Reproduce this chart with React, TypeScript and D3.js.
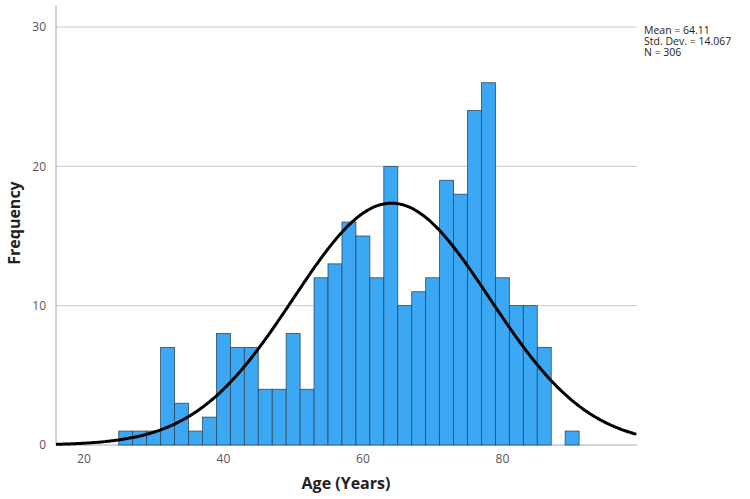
import { useEffect } from 'react';
import * as d3 from 'd3';

const width = 750;
const height = 499;
const marginLeft = 56;
const marginRight = 113;
const marginTop = 27;
const y0 = 445;

// histogram bins (2 years wide), starting at 25
const binStarts = [25, 27, 29, 31, 33, 35, 37, 39, 41, 43, 45, 47, 49, 51, 53, 55, 57, 59, 61, 63, 65, 67, 69, 71, 73, 75, 77, 79, 81, 83, 85, 87, 89];
const counts = [1, 1, 1, 7, 3, 1, 2, 8, 7, 7, 4, 4, 8, 4, 12, 13, 16, 15, 12, 20, 10, 11, 12, 19, 18, 24, 26, 12, 10, 10, 7, 0, 1];
const binWidth = 2;
const xTicks = [20, 40, 60, 80];
const yTicks = [0, 10, 20, 30];
const stats = ['Mean = 64.11', 'Std. Dev. = 14.067', 'N = 306'];
const mean = 64.11;
const sd = 14.067;
const n = 306;

const font = '"Open Sans", "Liberation Sans", Arial, sans-serif';

const App = () => {
  useEffect(() => {
    document.body.style.margin = '0';
  }, []);

  const x = d3.scaleLinear().domain([16, 99.3]).range([marginLeft, width - marginRight]);
  const y = d3.scaleLinear().domain([0, 30]).range([y0, marginTop]);

  // normal curve scaled to counts
  const curvePts = d3.range(16, 99.31, 0.2).map((v) => {
    const z = (v - mean) / sd;
    const f = (n * binWidth) / (sd * Math.sqrt(2 * Math.PI)) * Math.exp(-0.5 * z * z);
    return [v, f] as [number, number];
  });
  const line = d3
    .line<[number, number]>()
    .x((d) => x(d[0]))
    .y((d) => y(d[1]))
    .curve(d3.curveBasis);

  const [xMin, xMax] = x.range();

  return (
    <svg width={width} height={height} style={{ display: 'block', background: '#fff' }}>
      {/* gridlines */}
      {yTicks.slice(1).map((t) => (
        <line key={t} x1={xMin} x2={xMax} y1={y(t)} y2={y(t)} stroke="#c8c8c8" strokeWidth={1} />
      ))}
      {/* axes */}
      <line x1={xMin} x2={xMin} y1={5} y2={y0} stroke="#aaa" strokeWidth={1} />
      <line x1={xMin} x2={xMax} y1={y0} y2={y0} stroke="#aaa" strokeWidth={1} />

      {/* bars */}
      {binStarts.map((b, i) =>
        counts[i] > 0 ? (
          <rect
            key={b}
            x={x(b)}
            y={y(counts[i])}
            width={x(b + binWidth) - x(b)}
            height={y(0) - y(counts[i])}
            fill="#3ca8f4"
            stroke="#2e4a60"
            strokeWidth={0.8}
          />
        ) : null
      )}

      {/* normal curve */}
      <path d={line(curvePts) || ''} fill="none" stroke="#000" strokeWidth={3} />

      {/* y ticks */}
      {yTicks.map((t) => (
        <text key={t} x={46} y={y(t)} dy="0.35em" textAnchor="end" fontFamily={font} fontSize={12} fill="#555">
          {t}
        </text>
      ))}
      {/* x ticks */}
      {xTicks.map((t) => (
        <text key={t} x={x(t)} y={463} textAnchor="middle" fontFamily={font} fontSize={12} fill="#555">
          {t}
        </text>
      ))}

      <text
        transform={`translate(20,223) rotate(-90)`}
        textAnchor="middle"
        fontFamily={font}
        fontWeight="bold"
        fontSize={16}
        fill="#222"
      >
        Frequency
      </text>
      <text x={346} y={489} textAnchor="middle" fontFamily={font} fontWeight="bold" fontSize={16} fill="#222">
        Age (Years)
      </text>

      {stats.map((s, i) => (
        <text key={s} x={644} y={34 + i * 11} fontFamily={font} fontSize={10.5} fill="#222">
          {s}
        </text>
      ))}
    </svg>
  );
};

export default App;
